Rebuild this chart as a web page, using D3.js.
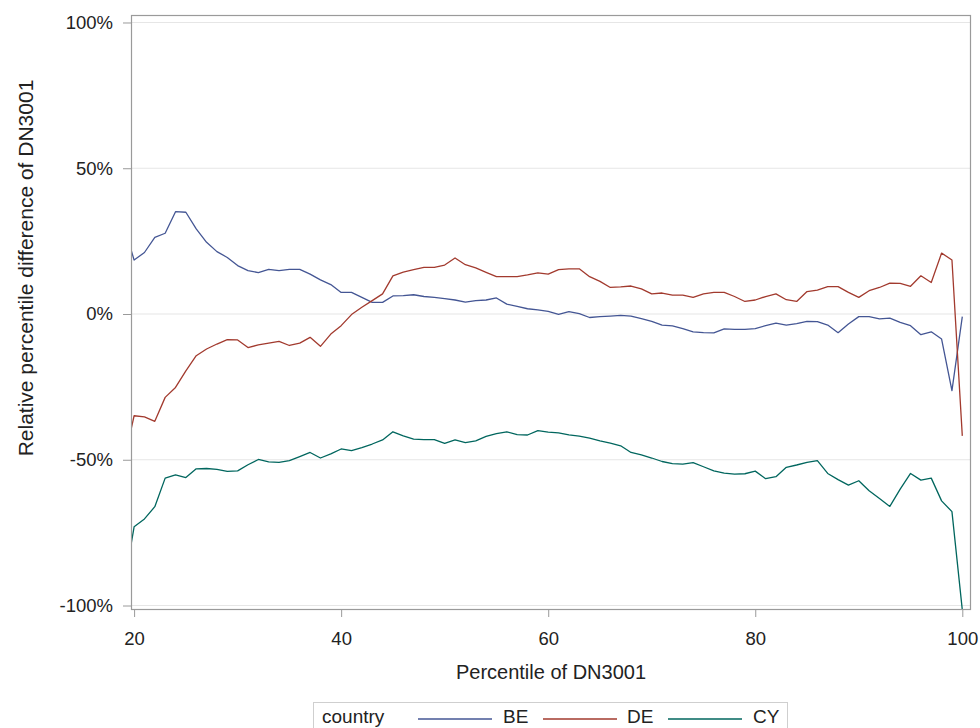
<!DOCTYPE html>
<html>
<head>
<meta charset="utf-8">
<script src="https://cdn.jsdelivr.net/npm/d3@7"></script>
<style>
  html, body { margin: 0; padding: 0; background: #fff; }
  svg { display: block; }
  text { font-family: "Liberation Sans", Arial, sans-serif; fill: #222; }
</style>
</head>
<body>
<svg id="chart" width="980" height="728"></svg>
<script>
// Percentiles of DN3001 (p = 19 lies just left of the visible axis range)
const percentiles = d3.range(19, 101);

// Relative percentile difference (%) per country
const beValues = [
  30.6, 18.5, 21.1, 26.3, 27.7, 35.1, 34.9, 29.2, 24.6, 21.4,
  19.4, 16.6, 14.9, 14.2, 15.3, 14.9, 15.3, 15.3, 13.7, 11.7,
  10.1, 7.4, 7.4, 5.7, 4.0, 4.0, 6.2, 6.3, 6.6, 6.0,
  5.7, 5.3, 4.8, 4.1, 4.6, 4.8, 5.5, 3.4, 2.6, 1.8,
  1.4, 0.9, -0.1, 0.8, 0.1, -1.2, -0.9, -0.7, -0.5, -0.7,
  -1.6, -2.5, -3.8, -4.1, -5.0, -6.1, -6.4, -6.5, -5.1, -5.3,
  -5.3, -5.0, -4.0, -3.1, -3.8, -3.3, -2.5, -2.6, -3.8, -6.4,
  -3.4, -0.9, -0.9, -1.7, -1.4, -2.9, -4.0, -7.1, -6.1, -8.6,
  -26.3, -0.9
];
const deValues = [
  -50.8, -34.9, -35.3, -36.8, -28.6, -25.2, -19.5, -14.3, -12.0, -10.3,
  -8.8, -8.9, -11.5, -10.6, -10.0, -9.4, -10.8, -10.0, -8.0, -11.1,
  -6.9, -4.0, -0.2, 2.3, 4.6, 6.9, 13.1, 14.4, 15.2, 16.0,
  16.0, 16.8, 19.2, 16.9, 15.8, 14.3, 12.8, 12.8, 12.8, 13.4,
  14.1, 13.7, 15.2, 15.5, 15.5, 12.8, 11.2, 9.1, 9.3, 9.6,
  8.6, 6.9, 7.2, 6.5, 6.5, 5.7, 6.9, 7.4, 7.4, 6.0,
  4.3, 4.8, 6.0, 6.9, 4.9, 4.3, 7.7, 8.2, 9.4, 9.4,
  7.4, 5.7, 8.0, 9.1, 10.6, 10.5, 9.5, 13.1, 10.8, 20.9,
  18.5, -41.8
];
const cyValues = [
  -93.7, -73.0, -70.3, -66.1, -56.3, -55.2, -56.1, -53.1, -53.0, -53.3,
  -54.0, -53.8, -51.7, -49.9, -50.7, -50.9, -50.3, -48.9, -47.5, -49.4,
  -48.0, -46.3, -46.9, -45.8, -44.6, -43.2, -40.4, -41.8, -42.9, -43.1,
  -43.1, -44.4, -43.2, -44.1, -43.5, -42.0, -41.0, -40.4, -41.4, -41.5,
  -40.0, -40.5, -40.8, -41.5, -41.9, -42.6, -43.5, -44.3, -45.2, -47.5,
  -48.3, -49.4, -50.6, -51.3, -51.5, -51.0, -52.4, -53.8, -54.6, -54.9,
  -54.8, -53.9, -56.5, -55.8, -52.6, -51.8, -50.9, -50.3, -54.7, -56.8,
  -58.7, -57.2, -60.6, -63.3, -66.0, -60.1, -54.7, -57.0, -56.3, -64.1,
  -67.8, -101.5
];

const countries = ["BE", "DE", "CY"];
const seriesValues = [beValues, deValues, cyValues];
const seriesColors = ["#445694", "#A23A2E", "#01665E"];

const xTicks = [20, 40, 60, 80, 100];
const yTicks = [-100, -50, 0, 50, 100];

const svg = d3.select("#chart");

// Plot frame
const frame = { left: 131, right: 971, top: 15, bottom: 610 };

const x = d3.scaleLinear().domain([19.7, 100.84]).range([frame.left, frame.right]);
const y = d3.scaleLinear().domain([-101.54, 102.57]).range([frame.bottom, frame.top]);

// Horizontal gridlines
svg.append("g")
  .selectAll("line")
  .data(yTicks)
  .join("line")
  .attr("x1", frame.left).attr("x2", frame.right)
  .attr("y1", d => y(d)).attr("y2", d => y(d))
  .attr("stroke", "#e6e6e6")
  .attr("stroke-width", 1.2);

// Clip lines to the plot area
svg.append("clipPath").attr("id", "plot-clip")
  .append("rect")
  .attr("x", frame.left).attr("y", frame.top)
  .attr("width", frame.right - frame.left)
  .attr("height", frame.bottom - frame.top);

const line = d3.line()
  .x((d, i) => x(percentiles[i]))
  .y(d => y(d));

svg.append("g")
  .attr("clip-path", "url(#plot-clip)")
  .selectAll("path")
  .data(seriesValues)
  .join("path")
  .attr("d", d => line(d))
  .attr("fill", "none")
  .attr("stroke", (d, i) => seriesColors[i])
  .attr("stroke-width", 1.3)
  .attr("stroke-linejoin", "round");

// Frame border
svg.append("rect")
  .attr("x", frame.left + 0.5).attr("y", frame.top + 0.5)
  .attr("width", frame.right - frame.left - 1)
  .attr("height", frame.bottom - frame.top - 1)
  .attr("fill", "none")
  .attr("stroke", "#9a9a9a")
  .attr("stroke-width", 1.2);

// Y axis
const yAxis = svg.append("g")
  .attr("transform", `translate(${frame.left},0)`)
  .call(d3.axisLeft(y).tickValues(yTicks).tickFormat(d => d + "%").tickSize(8).tickPadding(10));
yAxis.select(".domain").remove();
yAxis.selectAll(".tick line").attr("stroke", "#9a9a9a");
yAxis.selectAll(".tick text")
  .style("font-family", '"Liberation Sans", Arial, sans-serif')
  .style("font-size", "18.5px")
  .attr("fill", "#222");

// X axis
const xAxis = svg.append("g")
  .attr("transform", `translate(0,${frame.bottom})`)
  .call(d3.axisBottom(x).tickValues(xTicks).tickFormat(d3.format("d")).tickSize(7).tickPadding(15));
xAxis.select(".domain").remove();
xAxis.selectAll(".tick line").attr("stroke", "#9a9a9a");
xAxis.selectAll(".tick text")
  .style("font-family", '"Liberation Sans", Arial, sans-serif')
  .style("font-size", "18.5px")
  .attr("fill", "#222");

// Axis titles
svg.append("text")
  .attr("x", (frame.left + frame.right) / 2)
  .attr("y", 679)
  .attr("text-anchor", "middle")
  .style("font-size", "20px")
  .text("Percentile of DN3001");

svg.append("text")
  .attr("transform", "translate(33,268) rotate(-90)")
  .attr("text-anchor", "middle")
  .style("font-size", "21px")
  .text("Relative percentile difference of DN3001");

// Legend
const legend = svg.append("g");
legend.append("rect")
  .attr("x", 313.5).attr("y", 702.5)
  .attr("width", 474).attr("height", 34)
  .attr("fill", "#fff")
  .attr("stroke", "#cfcfcf");
legend.append("text")
  .attr("x", 322).attr("y", 723)
  .style("font-size", "19px")
  .text("country");

const legendItems = [
  { lineX: 418, textX: 503 },
  { lineX: 543, textX: 627 },
  { lineX: 668, textX: 753 }
];
countries.forEach((c, i) => {
  legend.append("line")
    .attr("x1", legendItems[i].lineX).attr("x2", legendItems[i].lineX + 74)
    .attr("y1", 719).attr("y2", 719)
    .attr("stroke", seriesColors[i])
    .attr("stroke-width", 1.3);
  legend.append("text")
    .attr("x", legendItems[i].textX).attr("y", 723)
    .style("font-size", "19px")
    .text(c);
});
</script>
</body>
</html>
